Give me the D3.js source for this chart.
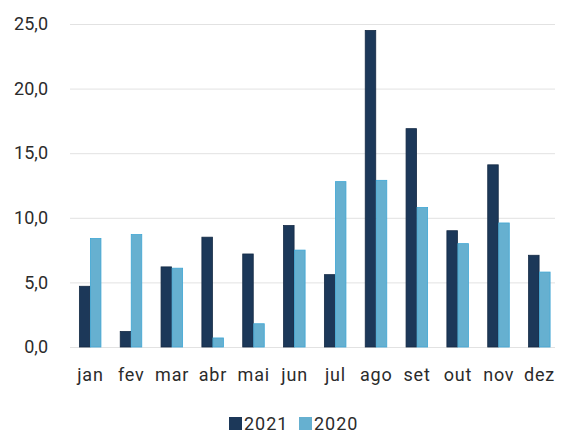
<!DOCTYPE html>
<html>
<head>
<meta charset="utf-8">
<script src="https://cdn.jsdelivr.net/npm/d3@7"></script>
<style>
body{margin:0;background:#fff;}
text{font-family:Roboto,"Liberation Sans",sans-serif;fill:#2b2b2b;}
</style>
</head>
<body>
<svg id="chart"></svg>
<script>
var months=["jan","fev","mar","abr","mai","jun","jul","ago","set","out","nov","dez"]
var series=["2021","2020"]
var v2021=[4.7,1.2,6.2,8.5,7.2,9.4,5.6,24.5,16.9,9.0,14.1,7.1]
var v2020=[8.4,8.7,6.1,0.7,1.8,7.5,12.8,12.9,10.8,8.0,9.6,5.8]
var yTicks=[0,5,10,15,20,25]
var colors={"2021":"#1c3859","2020":"#66b0d0"}

var screen={width:561,height:434}
var margins={left:70,right:1,top:24,bottom:87}
var graph={
    width:screen.width-margins.left-margins.right,
    height:screen.height-margins.top-margins.bottom
}

var svg=d3.select("#chart")
    .attr("width",screen.width)
    .attr("height",screen.height)

var target=svg.append("g")
    .attr("transform","translate("+margins.left+","+margins.top+")")

var xScale=d3.scaleBand()
    .domain(months)
    .range([0,graph.width])
    .paddingInner(0.46)
    .paddingOuter(0.23)

var xSub=d3.scaleBand()
    .domain(series)
    .range([0,xScale.bandwidth()])

var yScale=d3.scaleLinear()
    .domain([0,25])
    .range([graph.height,0])

// gridlines
target.append("g")
    .selectAll("line")
    .data(yTicks)
    .enter()
    .append("line")
    .attr("x1",0)
    .attr("x2",graph.width-5)
    .attr("y1",function(d){return yScale(d)+0.5})
    .attr("y2",function(d){return yScale(d)+0.5})
    .attr("stroke","#e2e2e2")
    .attr("stroke-width",1)

// y labels
var yAxis=d3.axisLeft(yScale)
    .tickValues(yTicks)
    .tickFormat(function(d){return d3.format(".1f")(d).replace(".",",")})
    .tickSize(0)
    .tickPadding(22)
var ya=target.append("g").call(yAxis)
ya.select(".domain").remove()
ya.selectAll("text").style("font-size","18px").attr("fill","#2b2b2b")

// bars
var rows=months.map(function(m,i){return {month:m,vals:[{s:"2021",v:v2021[i]},{s:"2020",v:v2020[i]}]}})
var groups=target.selectAll(".grp")
    .data(rows)
    .enter()
    .append("g")
    .attr("transform",function(d){return "translate("+xScale(d.month)+",0)"})

groups.selectAll("rect")
    .data(function(d){return d.vals})
    .enter()
    .append("rect")
    .attr("x",function(d){return xSub(d.s)})
    .attr("width",xSub.bandwidth()-0.5)
    .attr("y",function(d){return yScale(d.v)})
    .attr("height",function(d){return graph.height-yScale(d.v)})
    .attr("fill",function(d){return colors[d.s]})
    .attr("stroke",function(d){return d.s=="2020"?"#3fa6d4":"#142a45"})
    .attr("stroke-width",0.8)

// x labels
var xAxis=d3.axisBottom(xScale).tickSize(0).tickPadding(21)
var xa=target.append("g")
    .attr("transform","translate(0,"+graph.height+")")
    .call(xAxis)
xa.select(".domain").remove()
xa.selectAll("text").style("font-size","18px").style("letter-spacing","0.8px").attr("fill","#2b2b2b")

// legend
var legend=svg.append("g").attr("transform","translate(229,417)")
var legX=d3.scaleOrdinal().domain(series).range([0,70])
var items=legend.selectAll("g")
    .data(series)
    .enter()
    .append("g")
    .attr("transform",function(d){return "translate("+legX(d)+",0)"})
items.append("rect")
    .attr("width",13)
    .attr("height",13)
    .attr("y",0)
    .attr("fill",function(d){return colors[d]})
items.append("text")
    .text(function(d){return d})
    .attr("x",15)
    .attr("y",13)
    .style("font-size","18px")
    .style("letter-spacing","1px")
</script>
</body>
</html>
